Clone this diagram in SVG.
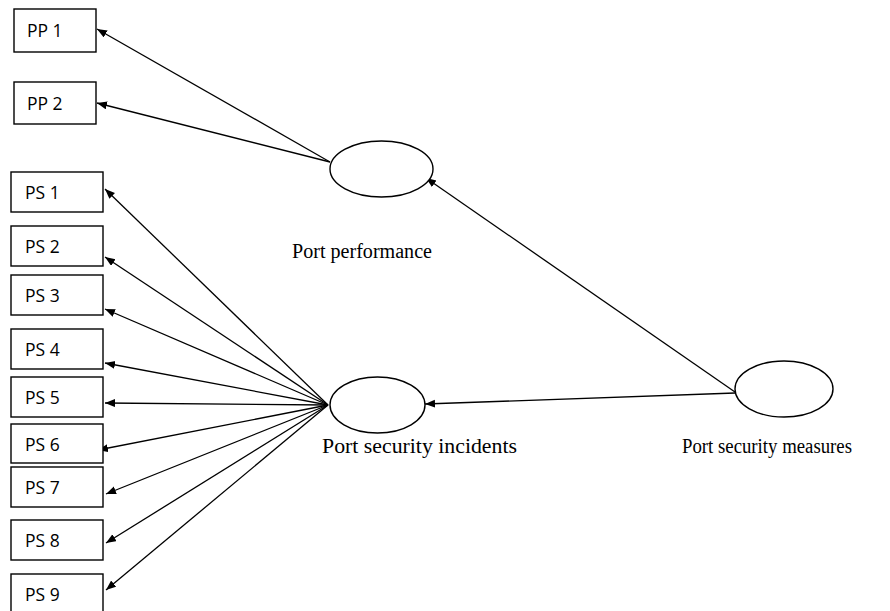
<svg xmlns="http://www.w3.org/2000/svg" width="890" height="611" viewBox="0 0 890 611">
<defs>
<marker id="arr" markerUnits="userSpaceOnUse" markerWidth="11" markerHeight="9" refX="10" refY="4" orient="auto">
<path d="M0,0 L10,4 L0,8 z" fill="#000"/>
</marker>
<style>
.box{fill:#fff;stroke:#000;stroke-width:1.4}
.ell{fill:#fff;stroke:#000;stroke-width:1.4}
.bt{font-family:"Open Sans","Noto Sans",sans-serif;font-size:17.5px;fill:#000}
.lt{font-family:"Liberation Serif","Times New Roman",serif;font-size:20.5px;fill:#000}
.c line{stroke:#000;stroke-width:1.3;marker-end:url(#arr)}
</style>
</defs>
<rect width="890" height="611" fill="#fff"/>
<g class="c" id="connectors">
<line x1="330" y1="162" x2="97" y2="29"/>
<line x1="330" y1="162" x2="97" y2="103"/>
<line x1="328" y1="405" x2="105" y2="189"/>
<line x1="328" y1="405" x2="105" y2="257"/>
<line x1="328" y1="405" x2="105" y2="309"/>
<line x1="328" y1="405" x2="105" y2="363"/>
<line x1="328" y1="405" x2="105" y2="403"/>
<line x1="328" y1="405" x2="98" y2="450"/>
<line x1="328" y1="405" x2="106" y2="494"/>
<line x1="328" y1="405" x2="106" y2="543"/>
<line x1="328" y1="405" x2="106" y2="590"/>
<line x1="735" y1="393" x2="425" y2="404"/>
<line x1="735" y1="392" x2="426" y2="178"/>
</g>
<g id="pp1"><rect class="box" x="14" y="9" width="82" height="43"/><text class="bt" x="27" y="37">PP 1</text></g>
<g id="pp2"><rect class="box" x="14" y="82" width="82" height="42"/><text class="bt" x="27" y="110">PP 2</text></g>
<g id="ps1"><rect class="box" x="11" y="172" width="92" height="40"/><text class="bt" x="25" y="199">PS 1</text></g>
<g id="ps2"><rect class="box" x="11" y="226" width="92" height="40"/><text class="bt" x="25" y="253">PS 2</text></g>
<g id="ps3"><rect class="box" x="11" y="275" width="92" height="40"/><text class="bt" x="25" y="302">PS 3</text></g>
<g id="ps4"><rect class="box" x="11" y="329" width="92" height="40"/><text class="bt" x="25" y="356">PS 4</text></g>
<g id="ps5"><rect class="box" x="11" y="377" width="92" height="40"/><text class="bt" x="25" y="404">PS 5</text></g>
<g id="ps6"><rect class="box" x="11" y="424" width="92" height="39"/><text class="bt" x="25" y="451">PS 6</text></g>
<g id="ps7"><rect class="box" x="11" y="467" width="92" height="40"/><text class="bt" x="25" y="494">PS 7</text></g>
<g id="ps8"><rect class="box" x="11" y="520" width="92" height="40"/><text class="bt" x="25" y="547">PS 8</text></g>
<g id="ps9"><rect class="box" x="11" y="574" width="92" height="45"/><text class="bt" x="25" y="601">PS 9</text></g>
<g id="port-performance"><ellipse class="ell" cx="381.5" cy="169" rx="51.5" ry="28"/><text class="lt" x="292" y="258" textLength="140" lengthAdjust="spacingAndGlyphs">Port performance</text></g>
<g id="port-security-incidents"><ellipse class="ell" cx="377.5" cy="405" rx="47.5" ry="28"/><text class="lt" x="322" y="453" textLength="195" lengthAdjust="spacingAndGlyphs">Port security incidents</text></g>
<g id="port-security-measures"><ellipse class="ell" cx="784" cy="389" rx="49" ry="28"/><text class="lt" x="682" y="453" textLength="170" lengthAdjust="spacingAndGlyphs">Port security measures</text></g>
</svg>
